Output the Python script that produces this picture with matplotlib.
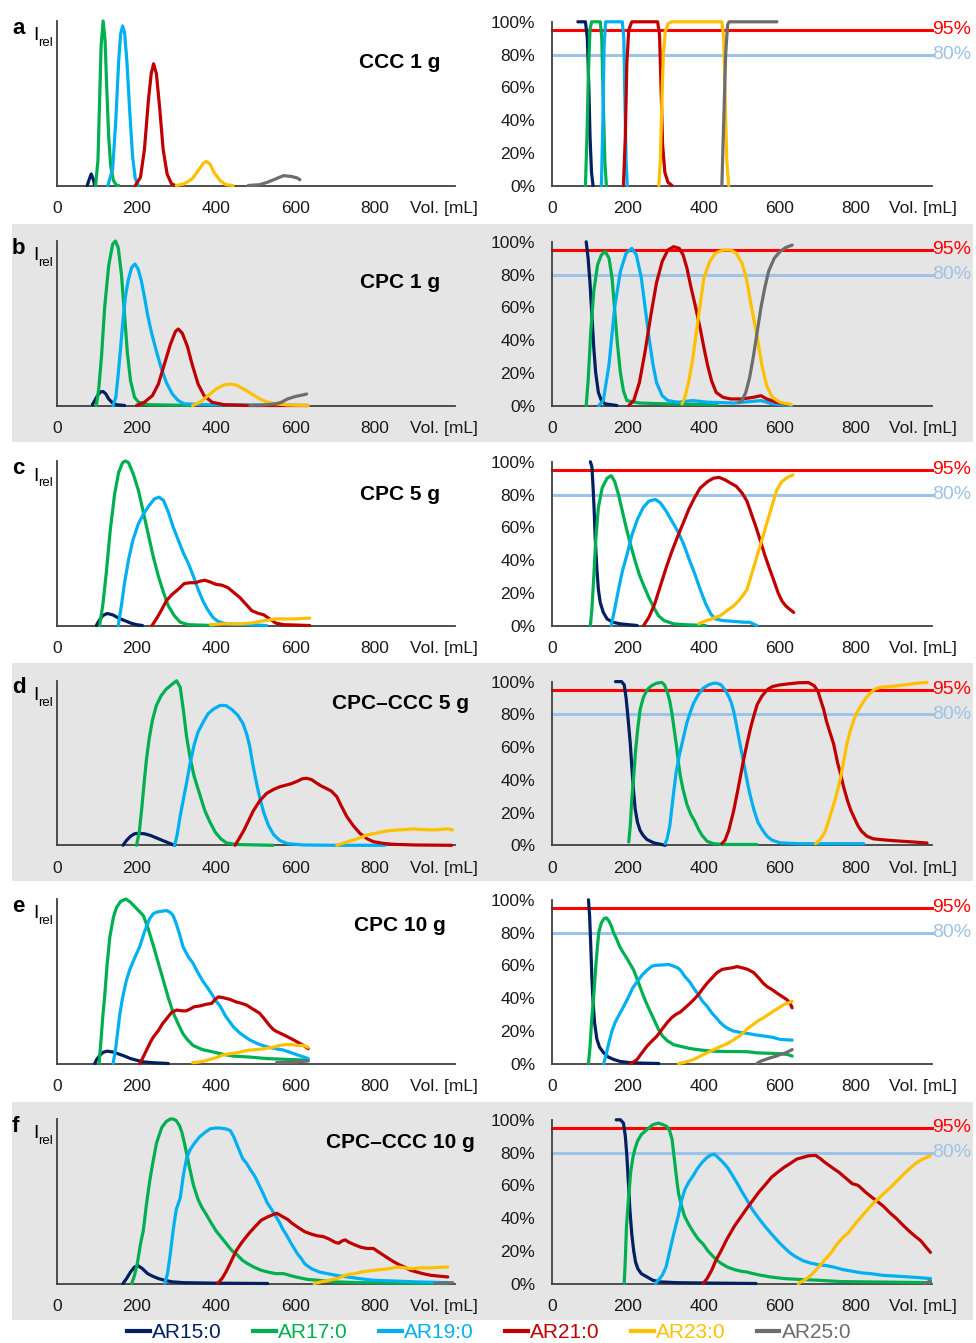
import matplotlib.pyplot as plt
from matplotlib.patches import Rectangle

plt.rcParams['font.family'] = ['Liberation Sans', 'DejaVu Sans']

W, H = 976, 1343

lipids = ['AR15:0', 'AR17:0', 'AR19:0', 'AR21:0', 'AR23:0', 'AR25:0']
colors = ['#002060', '#00b050', '#00b0f0', '#c00000', '#ffc000', '#6d6d6d']
letters = ['a', 'b', 'c', 'd', 'e', 'f']
titles = ['CCC 1 g', 'CPC 1 g', 'CPC 5 g', 'CPC–CCC 5 g', 'CPC 10 g', 'CPC–CCC 10 g']
gray_rows = [False, True, False, True, False, True]
x_ticks = [0, 200, 400, 600, 800]
purity_ticks = [0, 20, 40, 60, 80, 100]
thresholds = [95, 80]
threshold_colors = ['#ff0000', '#9dc3e6']

# ---- relative intensity (left column), volume in mL ----
a_int = {
    'AR15:0': ([76, 80, 86, 91, 95], [0, 3, 7, 4, 0]),
    'AR17:0': ([97, 103, 107, 111, 116, 121, 125, 130, 135, 142, 150, 155],
               [0, 15, 50, 85, 100, 88, 60, 30, 12, 3, 0, 0]),
    'AR19:0': ([128, 140, 148, 155, 160, 165, 170, 176, 183, 190, 197, 205],
               [0, 10, 40, 75, 92, 97, 93, 75, 45, 18, 4, 0]),
    'AR21:0': ([197, 210, 220, 230, 237, 243, 250, 258, 267, 277, 288, 298],
               [0, 5, 22, 52, 68, 74, 68, 48, 22, 7, 1, 0]),
    'AR23:0': ([300, 320, 340, 355, 368, 376, 385, 395, 410, 425, 443],
               [0, 1, 4, 9, 13.5, 14.6, 13, 8, 3, 0.5, 0]),
    'AR25:0': ([481, 510, 530, 550, 570, 590, 605, 611],
               [0, 0.5, 2, 4, 6, 5.5, 4.5, 3.5]),
}
b_int = {
    'AR15:0': ([89, 95, 103, 110, 116, 123, 130, 140, 150, 170],
               [0.5, 3, 6.5, 8.3, 8.5, 7, 4, 1.5, 0.5, 0]),
    'AR17:0': ([99, 105, 112, 120, 130, 140, 147, 154, 162, 170, 177, 185, 195, 205, 230, 340],
               [0, 10, 30, 60, 85, 98, 100, 96, 80, 55, 32, 15, 5, 2, 0.5, 0]),
    'AR19:0': ([141, 148, 154, 160, 166, 172, 179, 188, 196, 204, 212, 220, 228, 238, 250, 262,
                275, 290, 305, 320, 380, 630],
               [0, 5, 19, 35, 52, 66, 76, 84, 86, 83, 76, 66, 55, 44, 33, 23,
                14, 7, 3, 1, 0.5, 0]),
    'AR21:0': ([200, 220, 240, 255, 270, 285, 298, 305, 315, 328, 340, 355, 370, 390, 420, 485, 630],
               [0, 2, 6, 13, 25, 37, 45, 46.5, 44, 36, 25, 13, 6, 2, 0.5, 0, 0]),
    'AR23:0': ([341, 360, 380, 400, 420, 435, 450, 470, 490, 510, 530, 550, 580, 632],
               [0, 2, 6, 10, 12.5, 13, 12.5, 10, 7, 4, 2, 1, 0.3, 0]),
    'AR25:0': ([485, 520, 550, 565, 580, 600, 620, 628],
               [0, 0.3, 1, 2, 4, 5.5, 6.5, 7]),
}
c_int = {
    'AR15:0': ([99, 106, 115, 126, 140, 155, 170, 185, 200, 215],
               [0, 3, 6, 7.3, 6.5, 4.5, 3, 1.5, 0.5, 0]),
    'AR17:0': ([107, 115, 124, 134, 145, 155, 165, 172, 180, 192, 205, 218, 230, 242, 255, 268,
                280, 295, 310, 330, 393],
               [0, 12, 32, 58, 80, 93, 99, 100, 99, 92, 82, 68, 55, 42, 30, 20,
                12, 6, 2, 0.5, 0]),
    'AR19:0': ([154, 162, 170, 180, 191, 205, 218, 232, 245, 257, 268, 280, 292, 305, 318, 330,
                343, 355, 367, 378, 392, 405, 425, 527],
               [0, 12, 26, 40, 52, 62, 68, 73, 77, 78, 76, 69, 60, 52, 44, 38,
                30, 22, 15, 10, 5, 2.5, 1, 0]),
    'AR21:0': ([239, 250, 262, 275, 290, 305, 320, 335, 348, 360, 372, 385, 400, 415, 430, 445,
                460, 475, 490, 505, 520, 535, 550, 570, 636],
               [0, 4, 9, 15, 19, 22, 25.5, 26, 26, 27, 27.5, 26.5, 25, 24.5, 23, 20,
                17, 13, 9, 7.5, 6.5, 4, 1.5, 0.5, 0]),
    'AR23:0': ([386, 420, 460, 490, 510, 530, 550, 575, 600, 620, 636],
               [0.5, 1, 1, 1.5, 2.5, 3.2, 4, 4, 4, 4.3, 4.5]),
}
d_int = {
    'AR15:0': ([166, 175, 185, 195, 205, 220, 235, 250, 265, 280, 296],
               [0, 3, 5.5, 7, 7.3, 7, 6, 4.5, 3, 1.5, 0]),
    'AR17:0': ([200, 207, 213, 220, 225, 232, 240, 250, 262, 275, 290, 301, 310, 318, 326, 335,
                345, 359, 372, 385, 398, 412, 426, 450, 544],
               [0, 8, 22, 40, 52, 65, 76, 85, 91, 95, 98, 100, 96, 82, 66, 53,
                42, 31, 21, 14, 8, 4, 1.5, 0.5, 0]),
    'AR19:0': ([296, 302, 310, 318, 326, 335, 345, 355, 368, 380, 395, 410, 425, 440, 455, 468,
                478, 485, 492, 500, 510, 520, 532, 545, 560, 580, 620, 704, 825],
               [0, 6, 18, 28, 38, 50, 61, 69, 75, 80, 83, 85, 85, 82.5, 79, 74,
                67, 60, 50, 40, 29, 20, 12, 6.5, 3, 1, 0.2, 0, 0]),
    'AR21:0': ([448, 458, 470, 482, 494, 510, 527, 545, 561, 575, 590, 605, 618, 628, 640, 652,
                665, 678, 690, 704, 715, 729, 745, 762, 780, 796, 820, 847, 900, 993],
               [0, 4, 9, 15, 21, 27, 31.5, 34, 35.6, 36.5, 37.5, 39, 40.5, 40.7, 40, 38,
                36, 34.5, 33, 29.5, 24, 17.5, 12, 7.3, 4, 2.2, 1.2, 0.6, 0.2, 0]),
    'AR23:0': ([704, 720, 735, 750, 765, 780, 800, 821, 840, 855, 875, 897, 915, 935, 955, 970,
                985, 995],
               [0, 1.3, 2.5, 3.5, 4.8, 6.3, 7.2, 8.3, 9, 9.3, 9.5, 10, 9.6, 9.4, 9.4, 9.8,
                10, 9.3]),
}
e_int = {
    'AR15:0': ([95, 100, 108, 116, 126, 140, 155, 170, 185, 200, 217, 240, 280],
               [0, 2.5, 5, 6.8, 7.5, 7, 5.8, 4.5, 3, 2, 1, 0.5, 0]),
    'AR17:0': ([106, 110, 115, 120, 126, 133, 142, 150, 160, 173, 185, 195, 205, 217, 228, 242,
                255, 267, 280, 292, 305, 317, 330, 342, 365, 393, 420, 443, 480, 527, 580, 632],
               [0, 12, 28, 41, 60, 77, 89, 95, 98.5, 100, 98, 95.5, 93, 90, 83, 72,
                61, 51, 40, 31, 24, 18, 14, 11, 8.5, 7, 5.5, 4.5, 4, 3, 2.5, 2]),
    'AR19:0': ([141, 147, 152, 158, 165, 174, 183, 195, 208, 220, 233, 242, 250, 262, 275, 284,
                292, 300, 309, 317, 330, 342, 355, 367, 376, 390, 400, 410, 425, 443, 460, 485,
                505, 527, 550, 569, 590, 610, 632],
               [0, 8, 18, 30, 40, 50, 57, 64, 71, 80, 88, 91, 92, 92.5, 93, 92,
                90, 85, 78, 71, 65, 61, 55, 50, 47, 42, 38, 35, 28.5, 22.5, 18.5, 14.3,
                12, 10.2, 9, 8.2, 6.5, 4.8, 3]),
    'AR21:0': ([208, 215, 225, 235, 242, 255, 265, 275, 288, 301, 315, 325, 334, 345, 360, 375,
                389, 398, 406, 418, 435, 450, 465, 477, 490, 500, 510, 522, 535, 545, 552, 565,
                578, 590, 605, 620, 632],
               [0, 3, 8, 13, 16, 20, 24, 27, 31, 32.5, 32, 32, 33, 34.5, 35, 36,
                36.5, 39, 40.5, 40, 39, 37.5, 36.5, 35.5, 33.5, 32, 30.5, 27, 23, 20.5, 19.5, 18,
                16.5, 15, 13, 11, 9]),
    'AR23:0': ([341, 355, 370, 385, 400, 415, 435, 455, 470, 485, 505, 527, 545, 560, 575, 590,
                603, 620, 632],
               [0.5, 0.8, 1.5, 2.5, 3.5, 5, 6, 6.5, 7.5, 8.2, 8.5, 9.2, 10, 11, 11.5, 11.5,
                11, 11, 9.8]),
    'AR25:0': ([552, 580, 600, 632], [0.5, 0.8, 1, 1.5]),
}
f_int = {
    'AR15:0': ([166, 175, 185, 195, 204, 215, 228, 240, 255, 270, 290, 320, 400, 530],
               [0, 3, 7, 10, 10.8, 9, 6, 4.5, 3, 2, 1, 0.5, 0.2, 0]),
    'AR17:0': ([188, 195, 202, 210, 217, 225, 233, 240, 250, 258, 264, 275, 285, 292, 300, 308,
                314, 320, 327, 333, 343, 355, 365, 373, 385, 400, 420, 440, 455, 467, 480, 495,
                514, 530, 550, 570, 592, 610, 630, 655, 700, 760, 850, 983],
               [0, 5, 12, 24, 32, 48, 62, 72, 85, 91, 95, 98.5, 100, 100, 99, 96,
                92, 86, 78, 71, 60, 51, 46, 43, 38, 32, 26, 20, 17, 14, 12, 10,
                8, 7, 6, 6, 4.5, 3.5, 2.5, 2, 1, 0.5, 0.3, 0]),
    'AR19:0': ([271, 278, 285, 292, 300, 310, 318, 326, 334, 345, 358, 373, 385, 397, 410, 425,
                436, 445, 455, 467, 477, 487, 498, 508, 518, 529, 540, 550, 560, 568, 576, 590,
                605, 615, 623, 640, 660, 680, 701, 730, 760, 795, 850, 900, 983],
               [0, 6, 18, 32, 45, 52, 66, 76, 81, 85, 89, 92, 94, 94.5, 94.5, 94,
                93, 89, 83, 76, 73, 69, 65, 60, 55, 49, 45, 41, 37, 33, 30, 24,
                18, 15, 12, 9, 7, 6, 5, 4, 3, 2, 1.5, 1, 0.5]),
    'AR21:0': ([404, 415, 425, 435, 445, 451, 465, 483, 500, 514, 530, 545, 553, 565, 580, 592,
                607, 623, 640, 655, 670, 685, 700, 709, 718, 725, 735, 749, 765, 780, 796, 810,
                827, 845, 860, 874, 890, 905, 920, 940, 960, 983],
               [0, 3, 7, 12, 17, 20, 25, 30.5, 35, 38.5, 40.5, 42, 42.7, 41, 39, 36.5,
                34, 31.5, 30, 29, 28.5, 27, 25, 24.5, 26, 26.5, 25, 23.5, 22, 21.3, 21.3, 19,
                16.3, 13.5, 11.5, 10, 8, 7, 6, 5, 4.5, 4]),
    'AR23:0': ([647, 665, 685, 705, 720, 733, 750, 765, 780, 796, 815, 835, 858, 875, 895, 915,
                940, 960, 983],
               [0, 1, 2, 3, 4.5, 5.5, 6, 7, 7.5, 8, 8.5, 9, 10, 9.5, 9, 9.5,
                9.5, 9.8, 10]),
    'AR25:0': ([950, 995], [0, 0.5]),
}

# ---- purity in % (right column), volume in mL ----
a_pur = {
    'AR15:0': ([68, 88, 93, 97, 100, 104, 108], [100, 100, 90, 60, 30, 8, 0]),
    'AR17:0': ([88, 92, 96, 100, 104, 127, 131, 135, 139, 143],
               [0, 30, 70, 95, 100, 100, 90, 50, 15, 0]),
    'AR19:0': ([130, 134, 137, 141, 185, 189, 192, 195, 198],
               [0, 40, 85, 100, 100, 90, 50, 15, 0]),
    'AR21:0': ([188, 193, 197, 202, 210, 278, 283, 287, 291, 297, 305, 316],
               [0, 30, 75, 95, 100, 100, 92, 60, 25, 8, 2, 0]),
    'AR23:0': ([281, 285, 289, 293, 298, 306, 315, 447, 452, 456, 460, 465],
               [0, 15, 50, 80, 94, 99, 100, 100, 90, 50, 15, 0]),
    'AR25:0': ([447, 452, 457, 462, 466, 592], [0, 40, 80, 98, 100, 100]),
}
b_pur = {
    'AR15:0': ([90, 95, 100, 105, 110, 115, 122, 130, 140, 171],
               [100, 90, 75, 55, 35, 20, 8, 3, 1, 0]),
    'AR17:0': ([90, 95, 102, 110, 120, 130, 140, 150, 158, 165, 172, 180, 188, 197, 230, 300, 434],
               [0, 15, 45, 70, 86, 92, 94, 90, 78, 58, 38, 20, 9, 3, 1.5, 1, 0.5]),
    'AR19:0': ([123, 135, 150, 165, 180, 195, 210, 222, 235, 245, 255, 265, 275, 290, 305, 330,
                370, 410, 480, 550, 580, 630],
               [0, 3, 25, 60, 82, 93, 96, 92, 78, 60, 42, 26, 14, 6, 3, 2,
                3, 2, 1.5, 3, 1, 0]),
    'AR21:0': ([202, 215, 230, 245, 260, 275, 290, 305, 320, 335, 345, 355, 365, 378, 390, 400,
                410, 420, 432, 450, 470, 500, 530, 550, 565, 590, 627],
               [0, 3, 14, 33, 55, 75, 88, 95, 97, 96, 92, 84, 73, 60, 47, 35,
                24, 15, 8, 5, 4, 4, 5, 6, 4, 2, 0.5]),
    'AR23:0': ([342, 350, 360, 370, 380, 390, 400, 415, 430, 450, 470, 485, 500, 512, 525, 540,
                552, 565, 580, 600, 630],
               [1, 5, 15, 28, 45, 62, 78, 88, 93, 95, 95, 93, 87, 77, 60, 42,
                25, 12, 5, 2, 0.5]),
    'AR25:0': ([491, 500, 510, 520, 530, 540, 550, 560, 570, 585, 600, 615, 632],
               [2, 3, 8, 17, 30, 45, 60, 72, 82, 90, 94, 96.5, 98]),
}
c_pur = {
    'AR15:0': ([101, 105, 108, 111, 114, 118, 122, 127, 135, 145, 160, 180, 224],
               [100, 97, 85, 70, 52, 35, 22, 14, 8, 4, 2, 1, 0]),
    'AR17:0': ([101, 105, 110, 115, 122, 132, 145, 156, 165, 175, 185, 195, 206, 218, 230, 242,
                255, 268, 280, 295, 320, 350, 404],
               [0, 10, 30, 52, 72, 84, 90, 91.5, 88, 80, 70, 60, 50, 40, 31, 24,
                17, 11, 6, 3, 1, 0.5, 0]),
    'AR19:0': ([156, 165, 175, 185, 197, 210, 225, 240, 255, 272, 285, 300, 315, 330, 346, 360,
                375, 390, 405, 418, 430, 450, 480, 505, 520, 539],
               [0, 10, 22, 33, 43, 55, 65, 72, 76, 77, 75, 70, 64, 58, 50, 41,
                32, 22, 13, 7, 4, 3, 2.5, 2, 2, 0]),
    'AR21:0': ([241, 255, 270, 285, 300, 315, 330, 346, 360, 375, 390, 410, 425, 440, 455, 470,
                485, 500, 513, 525, 537, 548, 560, 572, 583, 595, 605, 615, 625, 636],
               [0, 5, 13, 24, 35, 45, 54, 63, 71, 78, 84, 88, 90, 90.5, 89, 87,
                85, 81, 76, 68, 60, 52, 43, 35, 28, 20, 15, 12, 10, 8]),
    'AR23:0': ([386, 400, 420, 443, 460, 478, 495, 513, 525, 539, 552, 566, 580, 592, 605, 620, 634],
               [1, 2.5, 4, 6, 9, 12, 16, 22, 31, 42, 52, 63, 74, 83, 88, 90.5, 92]),
}
d_pur = {
    'AR15:0': ([167, 183, 190, 195, 200, 206, 211, 215, 219, 225, 232, 240, 250, 268, 298],
               [100, 100, 98, 90, 78, 62, 45, 32, 22, 14, 9, 6, 3.5, 1.5, 0]),
    'AR17:0': ([202, 206, 210, 215, 220, 226, 232, 240, 250, 262, 275, 289, 296, 303, 310, 316,
                322, 328, 333, 338, 345, 355, 365, 375, 385, 395, 408, 425, 450, 539],
               [2, 12, 28, 42, 58, 72, 83, 90, 95, 97.5, 99, 99.5, 98, 94, 88, 80,
                70, 60, 50, 42, 34, 25, 19, 15, 10, 6, 2.5, 1, 0.5, 0.5]),
    'AR19:0': ([298, 303, 310, 315, 320, 327, 335, 346, 355, 365, 373, 385, 398, 412, 425, 434,
                445, 455, 465, 472, 478, 485, 492, 498, 504, 512, 520, 531, 542, 555, 566, 580,
                601, 650, 700, 820],
               [1, 4, 12, 22, 32, 45, 55, 66, 75, 82, 87, 92, 96, 98, 99, 99,
                98, 95, 91, 87, 82, 74, 65, 58, 51, 41, 32, 22, 14, 9, 5.5, 3,
                1.5, 1, 1, 1]),
    'AR21:0': ([447, 455, 465, 478, 490, 504, 515, 524, 531, 540, 552, 566, 580, 600, 625, 650,
                675, 690, 700, 708, 715, 722, 730, 741, 752, 760, 767, 778, 787, 794, 805, 815,
                829, 845, 864, 900, 940, 987],
               [1, 3, 9, 21, 35, 52, 64, 73, 79, 86, 91, 95, 97, 98, 98.7, 99.3,
                99.4, 97.5, 94, 88, 83, 76, 70, 62, 50, 43, 36, 27, 21, 17.5, 12, 8.5,
                5.5, 4, 3.5, 2.8, 2.2, 1.4]),
    'AR23:0': ([693, 700, 710, 718, 724, 732, 740, 750, 760, 768, 776, 785, 795, 802, 815, 826,
                838, 850, 864, 890, 910, 934, 960, 987],
               [1, 2, 5, 8, 12, 18, 24, 32, 42, 52, 62, 70, 77, 81, 86, 90,
                93, 95.5, 96.5, 97, 97.5, 98.2, 99, 99.5]),
}
e_pur = {
    'AR15:0': ([96, 99, 102, 105, 108, 112, 118, 125, 136, 148, 162, 180, 206, 240, 281],
               [100, 90, 72, 52, 38, 25, 15, 10, 6.5, 4, 2.5, 1.2, 0.5, 0.2, 0]),
    'AR17:0': ([96, 100, 104, 110, 116, 123, 130, 137, 143, 150, 156, 162, 170, 177, 184, 195,
                205, 215, 225, 233, 241, 250, 260, 268, 280, 290, 303, 320, 338, 356, 373, 400,
                426, 460, 490, 513, 540, 566, 600, 620, 632],
               [0, 10, 25, 42, 62, 80, 86, 88.5, 89, 87, 84, 80, 76, 72, 69, 65,
                61, 57, 51, 46, 41, 36, 31, 27, 21, 17, 14, 11.5, 10.5, 9.5, 8.8, 8,
                7.5, 7.3, 7.3, 7.2, 6.5, 6.3, 6, 5.5, 4.5]),
    'AR19:0': ([136, 142, 150, 158, 166, 175, 189, 200, 212, 224, 237, 250, 263, 276, 290, 307,
                320, 330, 338, 350, 362, 373, 385, 396, 408, 420, 432, 443, 455, 466, 478, 495,
                513, 535, 557, 580, 601, 615, 632],
               [0, 5, 13, 20, 25, 29, 35, 40, 46, 50, 54, 57, 59.5, 60, 60.2, 60.5,
                59.5, 58.5, 57, 53, 50, 46, 42, 38, 35, 31, 28, 25, 22.5, 21, 19.8, 19,
                18.4, 17.5, 16.8, 16, 14.7, 14.5, 14.3]),
    'AR21:0': ([206, 215, 224, 235, 250, 262, 276, 290, 303, 315, 326, 338, 350, 362, 373, 385,
                396, 408, 420, 434, 448, 461, 475, 487, 500, 515, 531, 545, 556, 566, 580, 592,
                605, 618, 626, 632],
               [0, 1, 2.5, 6, 10.6, 13.5, 16.7, 21, 25, 28, 30, 31.5, 34, 36.5, 39, 42,
                45.5, 49, 52, 55.5, 57.5, 58, 58.5, 59.2, 58.5, 57.5, 55.5, 52, 49, 47, 45, 43,
                41, 39, 37, 34]),
    'AR23:0': ([333, 345, 360, 373, 390, 408, 426, 445, 460, 478, 495, 513, 530, 545, 557, 570,
                583, 597, 610, 622, 632],
               [0, 0.5, 1.5, 2.5, 4.5, 6.5, 8.5, 10.5, 12, 14.5, 17, 21, 24, 26.5, 28, 30,
                32, 34, 36, 37, 38]),
    'AR25:0': ([539, 550, 562, 575, 590, 601, 615, 632], [0, 1.5, 2.5, 3.5, 4.5, 5.5, 6.5, 8.5]),
}
f_pur = {
    'AR15:0': ([169, 180, 188, 193, 197, 201, 205, 210, 215, 220, 226, 235, 250, 265, 283, 330,
                400, 537],
               [100, 100, 98, 90, 78, 62, 45, 30, 20, 13, 9, 6, 4, 2, 1, 0.5,
                0.3, 0]),
    'AR17:0': ([190, 193, 196, 201, 207, 213, 218, 225, 235, 250, 265, 280, 292, 302, 310, 316,
                321, 325, 329, 333, 340, 349, 360, 373, 385, 398, 410, 422, 435, 447, 462, 480,
                497, 513, 530, 550, 575, 611, 650, 700, 758, 820, 900, 996],
               [0, 15, 35, 51, 68, 77, 82, 87, 91, 94, 97, 98, 97, 96, 93, 88,
                78, 70, 62, 55, 48, 41, 36, 31, 27, 24, 20, 17, 14, 12, 10, 8.5,
                7.5, 7, 6, 5, 4, 3, 2.5, 2, 1.2, 1, 0.8, 0.5]),
    'AR19:0': ([272, 280, 290, 300, 310, 320, 332, 340, 349, 360, 372, 382, 395, 408, 418, 427,
                437, 450, 463, 475, 488, 500, 513, 525, 537, 550, 562, 575, 590, 600, 611, 625,
                640, 660, 680, 700, 720, 742, 765, 790, 815, 840, 870, 906, 940, 970, 996],
               [0, 2, 5, 10, 20, 30, 41, 50, 57, 62, 66, 70, 74, 77, 78.5, 79,
                77, 74, 70.5, 66, 61, 56, 51, 46, 42, 38, 34.5, 31, 27, 24.5, 22, 19,
                16.5, 14, 12.5, 11.5, 11, 10, 8.5, 7.5, 6.5, 6, 5, 4.5, 4, 3.5, 3]),
    'AR21:0': ([398, 408, 420, 431, 445, 460, 470, 480, 495, 510, 529, 545, 560, 578, 594, 611,
                628, 644, 660, 675, 693, 705, 718, 730, 742, 755, 765, 775, 790, 805, 815, 824,
                840, 857, 873, 890, 905, 922, 940, 955, 971, 985, 996],
               [0, 3, 8, 14, 20, 27, 31, 35, 40, 45, 51, 56, 60, 65, 68, 71,
                73.5, 76, 77, 78, 78.3, 76.5, 74, 72, 70, 68, 66, 64, 61, 60, 58, 56,
                53, 50, 47, 43, 40, 36, 32, 29, 26, 22, 19]),
    'AR23:0': ([648, 660, 676, 690, 705, 720, 735, 750, 765, 780, 800, 815, 830, 845, 860, 873,
                890, 905, 922, 940, 955, 971, 985, 996],
               [0, 1.5, 4, 7, 11, 15, 19, 24, 28, 31, 37, 41, 45, 49, 52, 55,
                58.5, 62, 66, 70, 73, 75.5, 77, 78]),
    'AR25:0': ([980, 996], [0, 1.5]),
}

intensity = [a_int, b_int, c_int, d_int, e_int, f_int]
purity = [a_pur, b_pur, c_pur, d_pur, e_pur, f_pur]

# layout in pixels
base_y = [185.5, 405.5, 625.5, 845.3, 1063.5, 1283.5]
title_dy = [-124.5, -124, -132.5, -143, -139.5, -142.5]
spine_col = '#404040'
txt_col = '#1a1a1a'


def fx(x):
    return x / W


def fy(y):
    return 1 - y / H


fig = plt.figure(figsize=(W / 100, H / 100), dpi=100)

for i in range(6):
    b = base_y[i]
    if gray_rows[i]:
        fig.patches.append(Rectangle((fx(12), fy(b + 36)), fx(961), 218 / H,
                                     transform=fig.transFigure, facecolor='#e5e5e5',
                                     edgecolor='none', zorder=-10))

    # left: relative intensity
    axl = fig.add_axes([fx(57), fy(b), 397.5 / W, 164.5 / H])
    axl.patch.set_alpha(0)
    for lip, col in zip(lipids, colors):
        if lip in intensity[i]:
            xs, ys = intensity[i][lip]
            axl.plot(xs, ys, color=col, lw=2.3, zorder=3, clip_on=False,
                     solid_joinstyle='round', solid_capstyle='round')
    axl.set_xlim(0, 1000)
    axl.set_ylim(0, 100)
    axl.set_xticks(x_ticks)
    axl.set_yticks([])

    # right: purity
    axr = fig.add_axes([fx(552), fy(b), 380 / W, 163.7 / H])
    axr.patch.set_alpha(0)
    for t, tc in zip(thresholds, threshold_colors):
        axr.plot([0, 1000], [t, t], color=tc, lw=2.2, zorder=2, clip_on=False)
        axr.text(1000, t, f'{t}%', color=tc, fontsize=14, va='center', ha='left',
                 clip_on=False)
    for lip, col in zip(lipids, colors):
        if lip in purity[i]:
            xs, ys = purity[i][lip]
            axr.plot(xs, ys, color=col, lw=2.3, zorder=3, clip_on=False,
                     solid_joinstyle='round', solid_capstyle='round')
    axr.set_xlim(0, 1000)
    axr.set_ylim(0, 100)
    axr.set_xticks(x_ticks)
    axr.set_yticks(purity_ticks)
    axr.set_yticklabels([f'{v}%' for v in purity_ticks])

    for ax in (axl, axr):
        for s in ('top', 'right'):
            ax.spines[s].set_visible(False)
        for s in ('left', 'bottom'):
            ax.spines[s].set_color(spine_col)
            ax.spines[s].set_linewidth(1.3)
        ax.tick_params(axis='x', length=0, pad=11, labelsize=12.5, colors=txt_col)
        ax.tick_params(axis='y', length=0, pad=12, labelsize=12.5, colors=txt_col)
        ax.annotate('Vol. [mL]', xy=(887, 0), xycoords=('data', 'axes fraction'),
                    xytext=(0, -11), textcoords='offset points', va='top', ha='left',
                    fontsize=12.5, color=txt_col, annotation_clip=False)

    fig.text(fx(12), fy(b - 152), letters[i], fontsize=16, fontweight='bold',
             va='baseline', ha='left')
    fig.text(fx(33), fy(b - 145), 'I', fontsize=14, va='baseline', ha='left')
    fig.text(fx(38), fy(b - 139), 'rel', fontsize=9.5, va='baseline', ha='left')
    fig.text(fx(400), fy(b + title_dy[i] + 7), titles[i], fontsize=15,
             fontweight='bold', va='baseline', ha='center')

handles = [plt.Line2D([], [], color=c, lw=3) for c in colors]
fig.legend(handles, lipids, loc='center', bbox_to_anchor=(fx(489), fy(1333)), ncol=6,
           frameon=False, fontsize=15, handlelength=1.1, handletextpad=0.1,
           columnspacing=1.5, labelcolor='linecolor')

fig.savefig('out.png', dpi=100)
